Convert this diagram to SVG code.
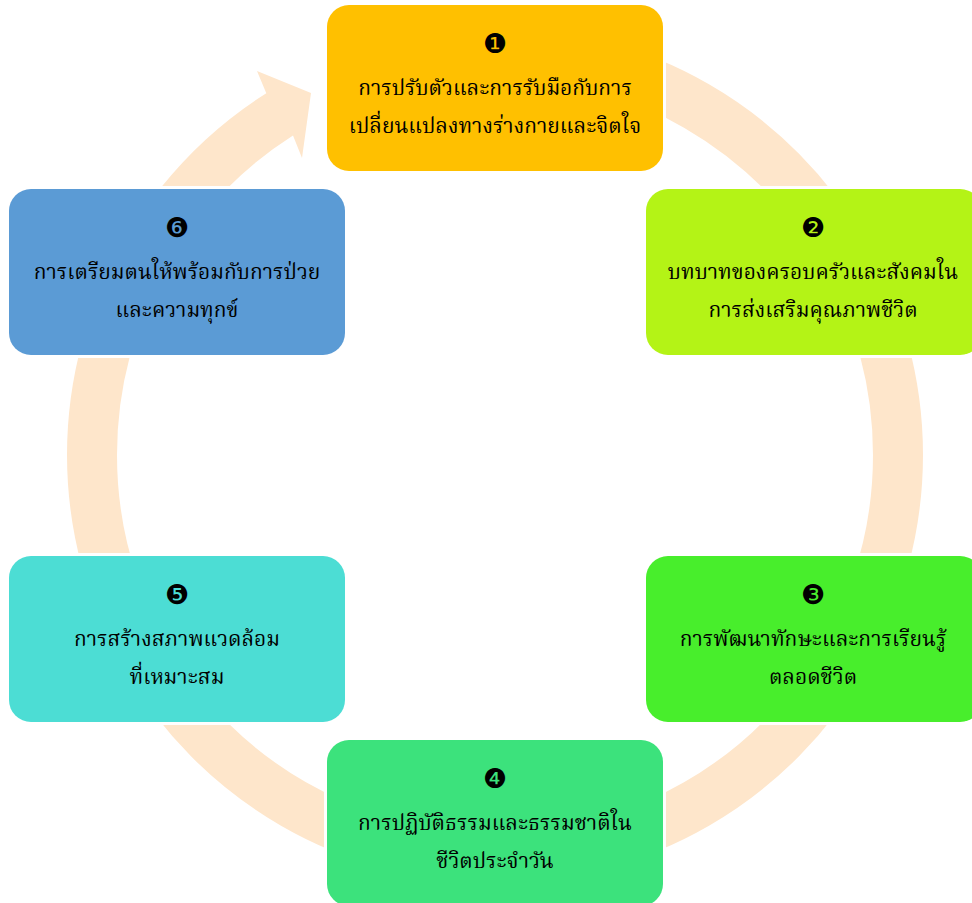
<svg xmlns="http://www.w3.org/2000/svg" width="972" height="903" viewBox="0 0 972 903">
<style>
.ring{fill:none;stroke:#FEE6CB;stroke-width:50;}
.arrow{fill:#FEE6CB;}
.box{stroke:#FFFFFF;stroke-width:6;paint-order:stroke;}
.num{font-family:"DejaVu Sans","Noto Sans",sans-serif;font-size:27px;fill:#000;text-anchor:middle;}
.lbl{font-family:"Noto Serif Thai","Noto Sans Thai","Liberation Serif",serif;font-size:21px;fill:#000;text-anchor:middle;}
</style>
<rect width="972" height="903" fill="#FFFFFF"/>
<g id="connectors">
<path class="ring" d="M495,52 A403,403 0 0 1 844,253.5"/>
<path class="ring" d="M844,253.5 A403,403 0 0 1 844,656.5"/>
<path class="ring" d="M844,656.5 A403,403 0 0 1 495,858"/>
<path class="ring" d="M495,858 A403,403 0 0 1 146,656.5"/>
<path class="ring" d="M146,656.5 A403,403 0 0 1 146,253.5"/>
<path class="arrow" d="M93,308.6 A428,428 0 0 1 266.3,93.2 L257,71 L311,93 L302,158 L293,135.5 A378,378 0 0 0 140,326 Z"/>
</g>
<g id="node1">
<rect class="box" x="327" y="5" width="336" height="166" rx="22" fill="#FFC000"/>
<text class="num" x="495" y="53">❶</text>
<text class="lbl" x="495" y="95">การปรับตัวและการรับมือกับการ</text>
<text class="lbl" x="495" y="133">เปลี่ยนแปลงทางร่างกายและจิตใจ</text>
</g>
<g id="node2">
<rect class="box" x="646" y="189" width="336" height="166" rx="22" fill="#B4F316"/>
<text class="num" x="813" y="237">❷</text>
<text class="lbl" x="813" y="279">บทบาทของครอบครัวและสังคมใน</text>
<text class="lbl" x="813" y="317">การส่งเสริมคุณภาพชีวิต</text>
</g>
<g id="node3">
<rect class="box" x="646" y="556" width="336" height="166" rx="22" fill="#48EE2C"/>
<text class="num" x="813" y="604">❸</text>
<text class="lbl" x="813" y="646">การพัฒนาทักษะและการเรียนรู้</text>
<text class="lbl" x="813" y="684">ตลอดชีวิต</text>
</g>
<g id="node4">
<rect class="box" x="327" y="740" width="336" height="166" rx="22" fill="#3CE27C"/>
<text class="num" x="495" y="788">❹</text>
<text class="lbl" x="495" y="830">การปฏิบัติธรรมและธรรมชาติใน</text>
<text class="lbl" x="495" y="868">ชีวิตประจำวัน</text>
</g>
<g id="node5">
<rect class="box" x="9" y="556" width="336" height="166" rx="22" fill="#4CDDD4"/>
<text class="num" x="177" y="604">❺</text>
<text class="lbl" x="177" y="646">การสร้างสภาพแวดล้อม</text>
<text class="lbl" x="177" y="684">ที่เหมาะสม</text>
</g>
<g id="node6">
<rect class="box" x="9" y="189" width="336" height="166" rx="22" fill="#5B9BD5"/>
<text class="num" x="177" y="237">❻</text>
<text class="lbl" x="177" y="279">การเตรียมตนให้พร้อมกับการป่วย</text>
<text class="lbl" x="177" y="317">และความทุกข์</text>
</g>
</svg>
